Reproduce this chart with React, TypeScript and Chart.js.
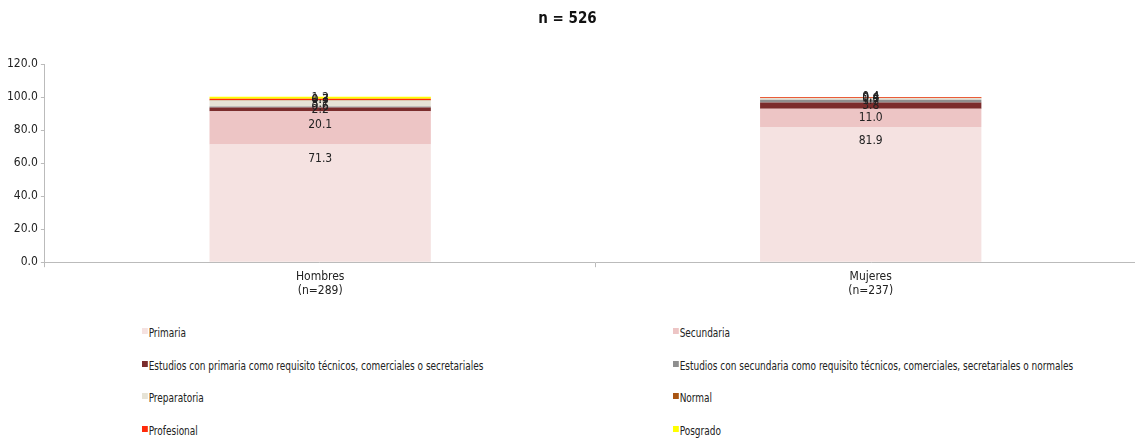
import React, { useEffect, useRef } from "react";
import { Chart, registerables } from "chart.js";

Chart.register(...registerables);

const categories: string[][] = [["Hombres", "(n=289)"], ["Mujeres", "(n=237)"]];
const seriesNames: string[] = [
  "Primaria",
  "Secundaria",
  "Estudios con primaria como requisito técnicos, comerciales o secretariales",
  "Estudios con secundaria como requisito técnicos, comerciales, secretariales o normales",
  "Preparatoria",
  "Normal",
  "Profesional",
  "Posgrado",
];
const seriesColors: string[] = [
  "#F5E2E1",
  "#EDC5C5",
  "#7B2C2C",
  "#8F8F8F",
  "#E6E3D6",
  "#A95512",
  "#FF2A0A",
  "#FFFF00",
];
const primaria: number[] = [71.3, 81.9];
const secundaria: number[] = [20.1, 11.0];
const estPrimaria: number[] = [2.2, 3.8];
const estSecundaria: number[] = [0.6, 1.7];
const preparatoria: number[] = [3.7, 0.8];
const normal: number[] = [0.3, 0.4];
const profesional: number[] = [0.7, 0.4];
const posgrado: number[] = [1.2, 0.0];
const yTicks: number[] = [0, 20, 40, 60, 80, 100, 120];
const titleText = "n = 526";

const FONT = "'Liberation Sans Narrow', 'DejaVu Sans Condensed', 'Noto Sans', sans-serif";

const seriesValues = [primaria, secundaria, estPrimaria, estSecundaria, preparatoria, normal, profesional, posgrado];

const dataLabelPlugin = {
  id: "segLabels",
  afterDatasetsDraw(chart: any) {
    const ctx = chart.ctx;
    ctx.save();
    ctx.font = `12px ${FONT}`;
    ctx.fillStyle = "#222";
    ctx.textAlign = "center";
    ctx.textBaseline = "middle";
    chart.data.datasets.forEach((ds: any, di: number) => {
      const meta = chart.getDatasetMeta(di);
      meta.data.forEach((bar: any, i: number) => {
        const v = ds.data[i];
        if (!v) return;
        const top = Math.min(bar.y, bar.base);
        const center = (bar.y + bar.base) / 2;
        const y = Math.min(center, top + 14);
        ctx.fillText(v.toFixed(1), bar.x, y);
      });
    });
    ctx.restore();
  },
};

export default function App() {
  const ref = useRef<HTMLCanvasElement | null>(null);
  useEffect(() => {
    if (!ref.current) return;
    const chart = new Chart(ref.current, {
      type: "bar",
      data: {
        labels: categories,
        datasets: seriesNames.map((name, i) => ({
          label: name,
          data: seriesValues[i],
          backgroundColor: seriesColors[i],
          borderWidth: 0,
          barPercentage: 0.402,
          categoryPercentage: 1,
        })),
      },
      options: {
        animation: false,
        responsive: false,
        maintainAspectRatio: false,
        layout: { padding: { left: 4, right: 4, top: 64, bottom: 0 } },
        plugins: {
          legend: { display: false },
          tooltip: { enabled: false },
          title: { display: false },
        },
        scales: {
          x: {
            stacked: true,
            grid: { display: true, drawOnChartArea: false, offset: true, tickLength: 5, color: "#BBBBBB" },
            border: { display: true, color: "#BBBBBB", width: 1 },
            ticks: { color: "#222", font: { family: FONT, size: 12 }, padding: 2, maxRotation: 0 },
          },
          y: {
            stacked: true,
            min: yTicks[0],
            max: yTicks[yTicks.length - 1],
            afterBuildTicks: (axis: any) => {
              axis.ticks = yTicks.map((v) => ({ value: v }));
            },
            grid: { display: true, drawOnChartArea: false, tickLength: 4, color: "#BBBBBB" },
            border: { display: true, color: "#BBBBBB", width: 1 },
            ticks: {
              color: "#222",
              font: { family: FONT, size: 12 },
              padding: 3,
              callback: (v: any) => Number(v).toFixed(1),
            },
          },
        },
      },
      plugins: [dataLabelPlugin],
    } as any);
    return () => chart.destroy();
  }, []);

  const legendTops = [333, 366, 398, 431];
  const legendLefts = [142, 673];

  return (
    <div style={{ position: "absolute", left: 0, top: 0, width: 1135, height: 441, background: "#fff", overflow: "hidden" }}>
      <canvas ref={ref} width={1150} height={300} style={{ position: "absolute", left: 0, top: 0 }} />
      <div
        style={{
          position: "absolute",
          left: 0,
          width: 1135,
          top: 8,
          textAlign: "center",
          fontFamily: FONT,
          fontWeight: "bold",
          fontSize: 15,
          lineHeight: "20px",
          color: "#111",
        }}
      >
        {titleText}
      </div>
      {seriesNames.map((name, i) => {
        const row = Math.floor(i / 2);
        const col = i % 2;
        return (
          <div
            key={name}
            style={{
              position: "absolute",
              left: legendLefts[col],
              top: legendTops[row] - 8,
              height: 16,
              display: "flex",
              alignItems: "flex-start",
              fontFamily: FONT,
              fontSize: 12,
              color: "#222",
              whiteSpace: "nowrap",
              lineHeight: "16px",
              transform: "scaleX(0.83)",
              transformOrigin: "left center",
            }}
          >
            <span style={{ display: "inline-block", width: 7, height: 6, background: seriesColors[i], marginTop: 3, marginRight: 1 }} />
            <span>{name}</span>
          </div>
        );
      })}
    </div>
  );
}
